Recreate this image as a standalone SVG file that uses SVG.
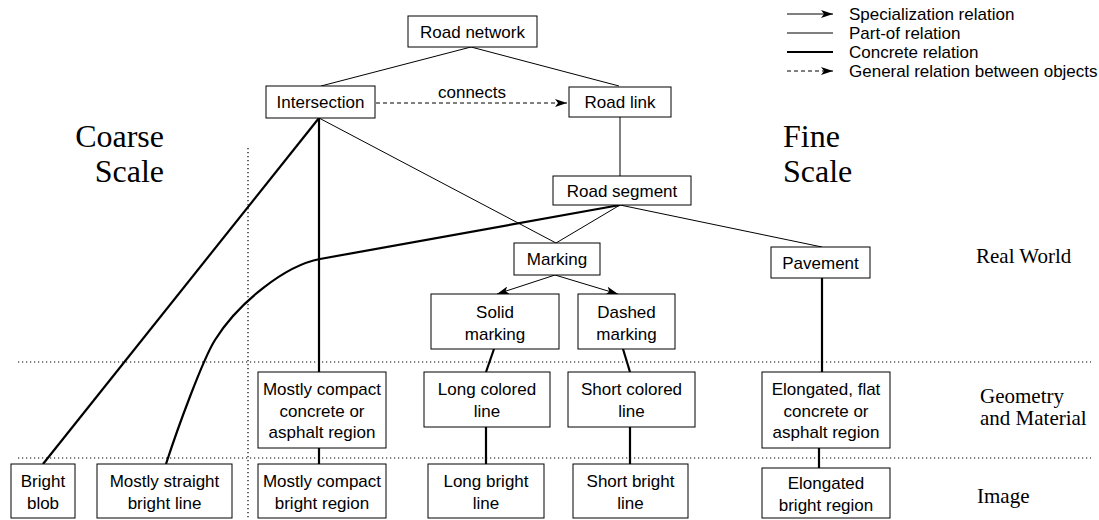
<svg xmlns="http://www.w3.org/2000/svg" width="1099" height="520" viewBox="0 0 1099 520">
  <style>
    .box { fill: #fff; stroke: #000; stroke-width: 1; }
    .lbl { font-family: "Liberation Sans", Arial, sans-serif; font-size: 17px; fill: #000; text-anchor: middle; }
    .leg { font-family: "Liberation Sans", Arial, sans-serif; font-size: 17px; fill: #000; }
    .big { font-family: "Liberation Serif", "Times New Roman", serif; font-size: 32px; fill: #000; }
    .lvl { font-family: "Liberation Serif", "Times New Roman", serif; font-size: 21px; fill: #000; }
    .part { fill: none; stroke: #000; stroke-width: 1; }
    .conc { fill: none; stroke: #000; stroke-width: 2.2; }
    .spec { fill: none; stroke: #000; stroke-width: 1; marker-end: url(#head); }
    .gen { fill: none; stroke: #000; stroke-width: 1; stroke-dasharray: 4 3; marker-end: url(#head); }
    .dots { fill: none; stroke: #000; stroke-width: 1.2; stroke-dasharray: 1.2 2.8; }
  </style>
  <defs>
    <marker id="head" markerUnits="userSpaceOnUse" markerWidth="13" markerHeight="8" refX="12" refY="4" orient="auto">
      <path d="M0,0 L12,4 L0,8 L3,4 z" fill="#000"/>
    </marker>
  </defs>

  <rect width="1099" height="520" fill="#fff"/>

  <!-- scale and level dividers -->
  <g id="dividers">
    <line class="dots" x1="18" y1="362" x2="1091" y2="362"/>
    <line class="dots" x1="18" y1="458" x2="1091" y2="458"/>
    <line class="dots" x1="248" y1="148" x2="248" y2="520"/>
  </g>

  <!-- scale and level captions -->
  <g id="captions">
    <text class="big" x="164" y="147" text-anchor="end">Coarse</text>
    <text class="big" x="164" y="182" text-anchor="end">Scale</text>
    <text class="big" x="783" y="147">Fine</text>
    <text class="big" x="783" y="182">Scale</text>
    <text class="lvl" x="976" y="263">Real World</text>
    <text class="lvl" x="980" y="403">Geometry</text>
    <text class="lvl" x="980" y="425">and Material</text>
    <text class="lvl" x="977" y="503">Image</text>
  </g>

  <!-- legend -->
  <g id="legend">
    <line class="spec" x1="787" y1="14" x2="833" y2="14"/>
    <line class="part" x1="787" y1="33" x2="833" y2="33"/>
    <line class="conc" x1="787" y1="52" x2="833" y2="52"/>
    <line class="gen" x1="787" y1="71" x2="833" y2="71"/>
    <text class="leg" x="849" y="20">Specialization relation</text>
    <text class="leg" x="849" y="39">Part-of relation</text>
    <text class="leg" x="849" y="58">Concrete relation</text>
    <text class="leg" x="849" y="77">General relation between objects</text>
  </g>

  <!-- connectors -->
  <g id="connectors">
    <!-- part-of -->
    <line class="part" x1="471" y1="47" x2="321" y2="86"/>
    <line class="part" x1="471" y1="47" x2="619" y2="86"/>
    <line class="part" x1="620" y1="117" x2="620" y2="176"/>
    <line class="part" x1="319" y1="118" x2="556" y2="243"/>
    <line class="part" x1="620" y1="205" x2="556" y2="243"/>
    <line class="part" x1="620" y1="205" x2="822" y2="247"/>
    <!-- general relation -->
    <line class="gen" x1="376" y1="103" x2="567" y2="103"/>
    <text class="lbl" x="472" y="98">connects</text>
    <!-- specialization -->
    <line class="spec" x1="555" y1="275" x2="497" y2="294"/>
    <line class="spec" x1="555" y1="275" x2="618" y2="294"/>
    <!-- concrete -->
    <line class="conc" x1="319" y1="118" x2="43" y2="464"/>
    <line class="conc" x1="319" y1="118" x2="319" y2="372"/>
    <line class="conc" x1="319" y1="448" x2="319" y2="464"/>
    <path class="conc" d="M620,205 L320,259 C285,265.5 238,303 215,340 C203,359 178,427 166,464"/>
    <line class="conc" x1="494" y1="349" x2="486" y2="372"/>
    <line class="conc" x1="486" y1="427" x2="486" y2="464"/>
    <line class="conc" x1="623" y1="349" x2="630" y2="372"/>
    <line class="conc" x1="630" y1="427" x2="630" y2="464"/>
    <line class="conc" x1="822" y1="278" x2="822" y2="372"/>
    <line class="conc" x1="819" y1="448" x2="819" y2="468"/>
  </g>

  <!-- real world nodes -->
  <g id="road-network">
    <rect class="box" x="408" y="16" width="129" height="31"/>
    <text class="lbl" x="472.5" y="37.5">Road network</text>
  </g>
  <g id="intersection">
    <rect class="box" x="266" y="86" width="109" height="32"/>
    <text class="lbl" x="320.5" y="108">Intersection</text>
  </g>
  <g id="road-link">
    <rect class="box" x="569" y="87" width="102" height="30"/>
    <text class="lbl" x="620" y="108">Road link</text>
  </g>
  <g id="road-segment">
    <rect class="box" x="553" y="176" width="138" height="29"/>
    <text class="lbl" x="622" y="196.5">Road segment</text>
  </g>
  <g id="marking">
    <rect class="box" x="514" y="243" width="86" height="32"/>
    <text class="lbl" x="557" y="265">Marking</text>
  </g>
  <g id="pavement">
    <rect class="box" x="771" y="247" width="99" height="31"/>
    <text class="lbl" x="820.5" y="268.5">Pavement</text>
  </g>
  <g id="solid-marking">
    <rect class="box" x="431" y="294" width="128" height="55"/>
    <text class="lbl" x="495" y="318">Solid</text>
    <text class="lbl" x="495" y="339.5">marking</text>
  </g>
  <g id="dashed-marking">
    <rect class="box" x="578" y="294" width="97" height="55"/>
    <text class="lbl" x="626.5" y="318">Dashed</text>
    <text class="lbl" x="626.5" y="339.5">marking</text>
  </g>

  <!-- geometry and material nodes -->
  <g id="compact-region">
    <rect class="box" x="258" y="372" width="128" height="76"/>
    <text class="lbl" x="322" y="395">Mostly compact</text>
    <text class="lbl" x="322" y="416.5">concrete or</text>
    <text class="lbl" x="322" y="438">asphalt region</text>
  </g>
  <g id="long-colored-line">
    <rect class="box" x="424" y="372" width="126" height="55"/>
    <text class="lbl" x="487" y="395">Long colored</text>
    <text class="lbl" x="487" y="416.5">line</text>
  </g>
  <g id="short-colored-line">
    <rect class="box" x="568" y="372" width="127" height="55"/>
    <text class="lbl" x="631.5" y="395">Short colored</text>
    <text class="lbl" x="631.5" y="416.5">line</text>
  </g>
  <g id="elongated-flat-region">
    <rect class="box" x="762" y="372" width="128" height="76"/>
    <text class="lbl" x="826" y="395">Elongated, flat</text>
    <text class="lbl" x="826" y="416.5">concrete or</text>
    <text class="lbl" x="826" y="438">asphalt region</text>
  </g>

  <!-- image nodes -->
  <g id="bright-blob">
    <rect class="box" x="11" y="464" width="64" height="54"/>
    <text class="lbl" x="43" y="487">Bright</text>
    <text class="lbl" x="43" y="508.5">blob</text>
  </g>
  <g id="straight-bright-line">
    <rect class="box" x="97" y="464" width="135" height="54"/>
    <text class="lbl" x="164.5" y="487">Mostly straight</text>
    <text class="lbl" x="164.5" y="508.5">bright line</text>
  </g>
  <g id="compact-bright-region">
    <rect class="box" x="258" y="464" width="128" height="54"/>
    <text class="lbl" x="322" y="487">Mostly compact</text>
    <text class="lbl" x="322" y="508.5">bright region</text>
  </g>
  <g id="long-bright-line">
    <rect class="box" x="428" y="464" width="116" height="54"/>
    <text class="lbl" x="486" y="487">Long bright</text>
    <text class="lbl" x="486" y="508.5">line</text>
  </g>
  <g id="short-bright-line">
    <rect class="box" x="573" y="464" width="115" height="54"/>
    <text class="lbl" x="630.5" y="487">Short bright</text>
    <text class="lbl" x="630.5" y="508.5">line</text>
  </g>
  <g id="elongated-bright-region">
    <rect class="box" x="762" y="468" width="128" height="50"/>
    <text class="lbl" x="826" y="489">Elongated</text>
    <text class="lbl" x="826" y="510.5">bright region</text>
  </g>
</svg>
